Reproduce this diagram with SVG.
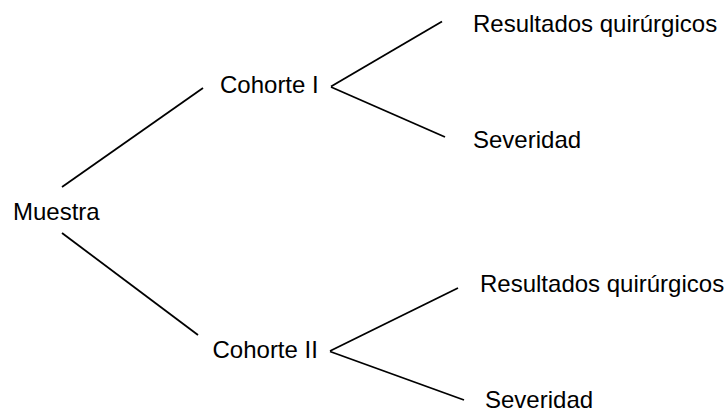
<svg xmlns="http://www.w3.org/2000/svg" width="724" height="410" viewBox="0 0 724 410">
<style>
text{font-family:"Liberation Sans",Arial,sans-serif;font-size:24px;fill:#000}
line{stroke:#000;stroke-width:1.8;stroke-linecap:butt}
</style>
<rect width="724" height="410" fill="#fff"/>
<g id="connectors">
<line x1="62" y1="187" x2="203" y2="88"/>
<line x1="62" y1="233" x2="198" y2="335"/>
<line x1="331" y1="86.5" x2="442" y2="21.5"/>
<line x1="331" y1="87" x2="445" y2="137"/>
<line x1="330" y1="351" x2="458" y2="288"/>
<line x1="330" y1="351.5" x2="464" y2="400"/>
</g>
<g id="muestra"><text x="13" y="220">Muestra</text></g>
<g id="cohorte1"><text x="220" y="93">Cohorte I</text></g>
<g id="cohorte2"><text x="212.5" y="358">Cohorte II</text></g>
<g id="resultados1"><text x="473" y="32">Resultados quirúrgicos</text></g>
<g id="severidad1"><text x="473" y="148">Severidad</text></g>
<g id="resultados2"><text x="480" y="292">Resultados quirúrgicos</text></g>
<g id="severidad2"><text x="485" y="408">Severidad</text></g>
</svg>
